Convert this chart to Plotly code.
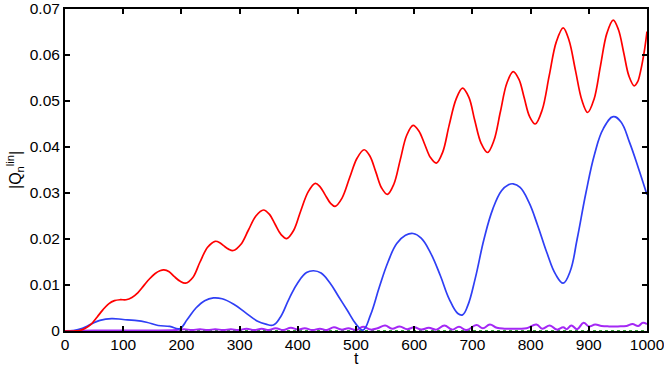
import plotly.graph_objects as go

# ---- data ----
red_t = [0, 15, 25, 35, 45, 55, 65, 75, 85, 95, 105, 115, 125, 135, 145, 155, 163, 170,
         179, 188, 198, 207, 220, 232, 245, 258, 266, 273, 281, 289, 302, 315, 328, 341,
         351, 361, 371, 381, 393, 405, 418, 430, 438, 447, 456, 464, 476, 489, 502, 514,
         524, 534, 544, 554, 565, 576, 587, 598, 608, 618, 628, 638, 649, 660, 672, 683,
         694, 704, 715, 726, 737, 748, 759, 770, 780, 789, 798, 808, 820, 832, 844, 856,
         866, 877, 888, 898, 909, 920, 931, 942, 951, 960, 969, 978, 984, 989, 995, 1000]
red_v = [0, 0.0, 0.0001, 0.0006, 0.0015, 0.0030, 0.0046, 0.0059, 0.0066, 0.0068, 0.0068, 0.0073, 0.0083,
         0.0098, 0.0113, 0.0125, 0.0131, 0.0133,
         0.0129, 0.0118, 0.0108, 0.0104, 0.0117, 0.0150, 0.0182, 0.0195, 0.0192, 0.0185, 0.0178, 0.0175,
         0.0188, 0.0219, 0.0250, 0.0263, 0.0254, 0.0232, 0.0210, 0.0201, 0.0219, 0.0261, 0.0303, 0.0321,
         0.0314, 0.0296, 0.0278, 0.0271, 0.0289, 0.0333, 0.0376, 0.0394, 0.0380, 0.0346, 0.0311, 0.0297,
         0.0319, 0.0372, 0.0425, 0.0447, 0.0435, 0.0406, 0.0377, 0.0365, 0.0389, 0.0447, 0.0504, 0.0528,
         0.0508, 0.0458, 0.0408, 0.0388, 0.0414, 0.0476, 0.0538, 0.0564, 0.0547, 0.0507, 0.0467, 0.0450,
         0.0481, 0.0555, 0.0628, 0.0659, 0.0632, 0.0567, 0.0502, 0.0475, 0.0504, 0.0576, 0.0647, 0.0676,
         0.0655, 0.0605, 0.0554, 0.0533, 0.0542, 0.0565, 0.0605, 0.0651]

blue_t = [0, 15, 30, 45, 60, 80, 100, 120, 140, 160, 180, 197, 210, 225, 240, 255, 270, 290, 310, 330, 345, 358,
          370, 385, 400, 415, 427, 440, 455, 470, 485, 500, 512, 525, 540, 555, 570, 585, 598, 612, 628, 645,
          660, 675, 683, 692, 705, 720, 735, 750, 762, 770, 782, 797, 812, 828, 843, 856, 868, 880, 895, 910,
          925, 942, 955, 970, 985, 1000]
blue_v = [0, 0.0001, 0.0006, 0.0015, 0.0023, 0.0027, 0.0025, 0.0023, 0.0019, 0.0012, 0.0010, 0.0005, 0.0025,
          0.0050, 0.0066, 0.0072, 0.0070, 0.0058, 0.0040, 0.0022, 0.0015, 0.0013, 0.0030, 0.0070, 0.0105, 0.0127,
          0.0131, 0.0126, 0.0105, 0.0075, 0.0045, 0.0015, 0.0002, 0.0035, 0.0095, 0.0150, 0.0190, 0.0208, 0.0212,
          0.0202, 0.0170, 0.0120, 0.0070, 0.0038, 0.0035, 0.0055, 0.0115, 0.0200, 0.0265, 0.0305, 0.0318, 0.0320,
          0.0312, 0.0280, 0.0230, 0.0170, 0.0123, 0.0104, 0.0130, 0.0200, 0.0300, 0.0385, 0.0440, 0.0466, 0.0455,
          0.0410, 0.0355, 0.0296]

purple_t = [0, 50, 100, 150, 190, 205, 218, 232, 245, 258, 272, 285, 298, 312, 325, 338, 350, 362, 375, 388,
            400, 412, 425, 438, 450, 462, 475, 487, 500, 512, 525, 537, 550, 562, 575, 588, 600, 612, 625, 638,
            652, 665, 677, 690, 707, 718, 730, 742, 755, 768, 780, 793, 810, 820, 833, 845, 856, 862, 870, 880,
            891, 900, 911, 922, 935, 950, 965, 975, 985, 993, 1000]
purple_v = [0, 0.0001, 0.0001, 0.0001, 0.0002, 0.0004, 0.0002, 0.0004, 0.0002, 0.0004, 0.0002, 0.0004, 0.0002,
            0.0005, 0.0002, 0.0005, 0.0002, 0.0006, 0.0002, 0.0007, 0.0003, 0.0006, 0.0002, 0.0005, 0.0002,
            0.0008, 0.0003, 0.0006, 0.0002, 0.0009, 0.0003, 0.0006, 0.0012, 0.0005, 0.0010, 0.0004, 0.0008,
            0.0003, 0.0007, 0.0003, 0.0012, 0.0003, 0.0009, 0.0002, 0.0013, 0.0006, 0.0014, 0.0007, 0.0005,
            0.0005, 0.0005, 0.0006, 0.0014, 0.0005, 0.0012, 0.0003, 0.0008, 0.0004, 0.0012, 0.0004, 0.0018,
            0.0010, 0.0014, 0.0011, 0.0010, 0.0010, 0.0011, 0.0015, 0.0011, 0.0018, 0.0015]

green_t = [0, 1000]
green_v = [0.00005, 0.00005]

x_ticks = [0, 100, 200, 300, 400, 500, 600, 700, 800, 900, 1000]
y_ticks = [0, 0.01, 0.02, 0.03, 0.04, 0.05, 0.06, 0.07]
y_tick_labels = ["0", "0.01", "0.02", "0.03", "0.04", "0.05", "0.06", "0.07"]

FONT = "Liberation Sans, Arial, Helvetica, sans-serif"

fig = go.Figure()
fig.add_trace(go.Scatter(x=green_t, y=green_v, mode="lines",
                         line=dict(color="#3a9a3a", width=1.5, dash="dot")))
fig.add_trace(go.Scatter(x=purple_t, y=purple_v, mode="lines",
                         line=dict(color="#a428f5", width=2, shape="spline", smoothing=1.2)))
fig.add_trace(go.Scatter(x=blue_t, y=blue_v, mode="lines",
                         line=dict(color="#2f3ff5", width=1.7, shape="spline", smoothing=1.2)))
fig.add_trace(go.Scatter(x=red_t, y=red_v, mode="lines",
                         line=dict(color="#ff0000", width=1.7, shape="spline", smoothing=1.0)))

axis_common = dict(showgrid=False, zeroline=False, showline=True, linecolor="black", linewidth=2,
                   mirror="ticks", ticks="inside", ticklen=5, tickwidth=1.5, tickcolor="black",
                   ticklabeloverflow="allow",
                   tickfont=dict(family=FONT, size=15.5, color="black"))

fig.update_layout(
    width=664, height=366,
    margin=dict(l=65, r=17, t=9, b=35, autoexpand=False),
    paper_bgcolor="white", plot_bgcolor="white",
    showlegend=False,
    font=dict(family=FONT, color="black"),
    xaxis=dict(range=[0, 1000], tickvals=x_ticks, ticktext=[str(v) for v in x_ticks],
               automargin=False, ticklabelstandoff=-2, **axis_common),
    yaxis=dict(range=[0, 0.07], tickvals=y_ticks, ticktext=y_tick_labels,
               automargin=False, **axis_common),
    annotations=[
        dict(text="t", xref="paper", yref="paper", x=0.5, y=0, xanchor="center", yanchor="middle",
             yshift=-27, showarrow=False, font=dict(family=FONT, size=16, color="black")),
        dict(text="|Q<sub>n</sub><sup>lin</sup>|", xref="paper", yref="paper", x=0, y=0.5,
             xanchor="center", yanchor="middle", xshift=-50, textangle=-90, showarrow=False,
             font=dict(family=FONT, size=16, color="black")),
    ],
)

fig.write_html("out.html", config={"displayModeBar": False},
               post_script="document.body.style.margin='0';document.body.style.padding='0';")
